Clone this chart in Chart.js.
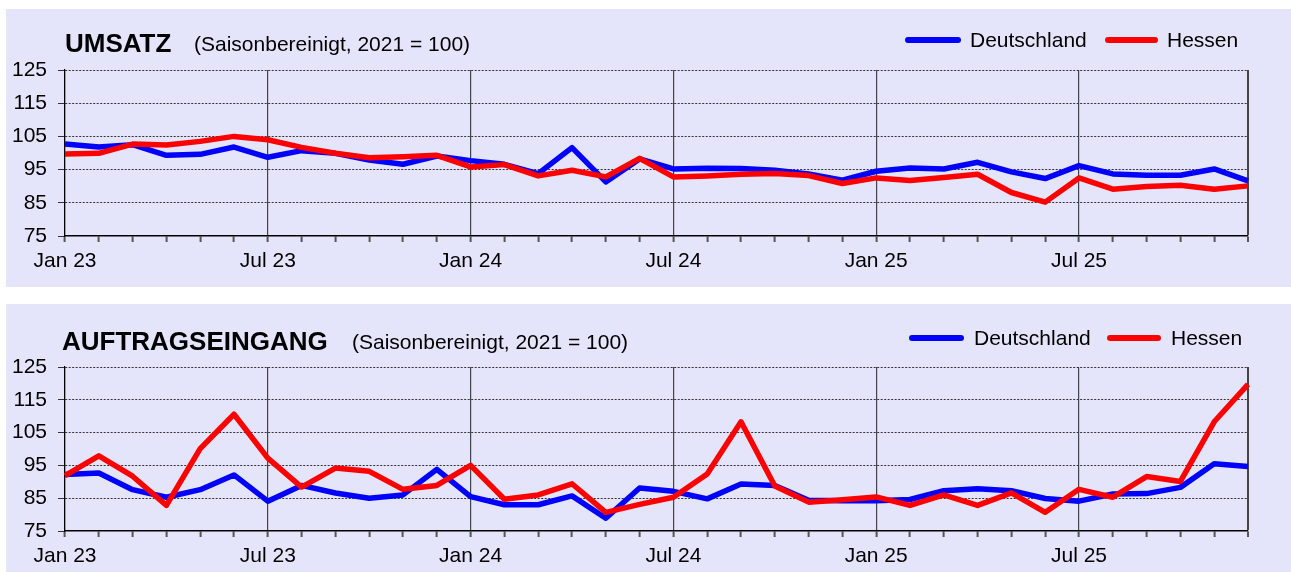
<!DOCTYPE html>
<html lang="de">
<head>
<meta charset="utf-8">
<title>Umsatz und Auftragseingang</title>
<script src="https://cdn.jsdelivr.net/npm/chart.js@4.4.1/dist/chart.umd.min.js"></script>
<style>
  html, body { margin: 0; padding: 0; background: #fff; }
  body { width: 1291px; height: 572px; position: relative; overflow: hidden; font-family: "Liberation Sans", Arial, sans-serif; color: #000; }
  .panel { position: absolute; left: 6px; width: 1285px; background: #E4E4FA; }
  .panel canvas { position: absolute; left: 0; top: 0; }
  .title { position: absolute; font-weight: bold; font-size: 26px; line-height: 26px; white-space: nowrap; }
  .sub { position: absolute; font-size: 21px; line-height: 21px; white-space: nowrap; }
  .leg-line { position: absolute; height: 6px; border-radius: 3px; }
  .leg-text { position: absolute; font-size: 21px; line-height: 21px; white-space: nowrap; }
</style>
</head>
<body>

<div class="panel" id="p1" style="top:9px;height:278px;">
  <canvas id="umsatzChart" width="1285" height="278"></canvas>
  <div class="title" style="left:59px;top:21px;">UMSATZ</div>
  <div class="sub" style="left:188px;top:24px;">(Saisonbereinigt, 2021 = 100)</div>
  <div class="leg-line" style="left:899px;top:28px;width:56px;background:#0000FF;"></div>
  <div class="leg-text" style="left:964px;top:20px;">Deutschland</div>
  <div class="leg-line" style="left:1099px;top:28px;width:53px;background:#FF0000;"></div>
  <div class="leg-text" style="left:1161px;top:20px;">Hessen</div>
</div>

<div class="panel" id="p2" style="top:304px;height:268px;">
  <canvas id="auftragChart" width="1285" height="268"></canvas>
  <div class="title" style="left:56px;top:24px;">AUFTRAGSEINGANG</div>
  <div class="sub" style="left:346px;top:27px;">(Saisonbereinigt, 2021 = 100)</div>
  <div class="leg-line" style="left:903px;top:31px;width:55px;background:#0000FF;"></div>
  <div class="leg-text" style="left:968px;top:23px;">Deutschland</div>
  <div class="leg-line" style="left:1101px;top:31px;width:54px;background:#FF0000;"></div>
  <div class="leg-text" style="left:1165px;top:23px;">Hessen</div>
</div>

<script>
// Monate Jan 23 bis Dez 25
const monthNames = ['Jan', 'Feb', 'Mär', 'Apr', 'Mai', 'Jun', 'Jul', 'Aug', 'Sep', 'Okt', 'Nov', 'Dez'];
const years = ['23', '24', '25'];
const months = [];
years.forEach(y => monthNames.forEach(m => months.push(m + ' ' + y)));

const yTicks = [75, 85, 95, 105, 115, 125];

// Umsatz (Saisonbereinigt, 2021 = 100)
const umsatzDeutschland = [
  102.7, 101.8, 102.5, 99.3, 99.6, 101.8, 98.7, 100.7, 99.9, 97.9, 96.6, 99.1,
  97.7, 96.6, 93.8, 101.6, 91.3, 98.2, 95.2, 95.4, 95.3, 94.8, 93.7, 91.8,
  94.5, 95.5, 95.2, 97.2, 94.3, 92.3, 96.2, 93.7, 93.3, 93.3, 95.2, 91.6
];
const umsatzHessen = [
  99.7, 99.9, 102.7, 102.4, 103.5, 105.0, 104.0, 101.7, 99.9, 98.6, 98.9, 99.3,
  95.8, 96.5, 93.1, 94.8, 92.8, 98.4, 92.8, 93.1, 93.6, 93.8, 93.2, 90.8,
  92.5, 91.7, 92.6, 93.6, 88.1, 85.2, 92.5, 89.1, 89.9, 90.3, 89.1, 90.1
];

// Auftragseingang (Saisonbereinigt, 2021 = 100)
const auftragDeutschland = [
  92.2, 92.7, 87.6, 85.3, 87.6, 92.1, 84.1, 88.9, 86.6, 85.0, 86.0, 93.8,
  85.5, 83.0, 83.0, 85.7, 78.9, 88.1, 87.1, 84.8, 89.3, 88.9, 84.4, 84.2,
  84.2, 84.6, 87.3, 87.9, 87.3, 84.9, 84.1, 86.3, 86.4, 88.3, 95.5, 94.7
];
const auftragHessen = [
  91.9, 97.9, 91.7, 82.8, 100.1, 110.6, 97.2, 88.4, 94.2, 93.2, 87.7, 88.9,
  95.0, 84.7, 86.0, 89.4, 80.7, 83.1, 85.3, 92.4, 108.3, 88.7, 83.8, 84.5,
  85.4, 82.8, 86.0, 82.8, 86.6, 80.7, 87.7, 85.3, 91.6, 90.1, 108.3, 119.7
];

function makeChart(canvasId, deData, heData, topPad, xAxisHeight) {
  const ctx = document.getElementById(canvasId).getContext('2d');
  const last = months.length - 1;
  return new Chart(ctx, {
    type: 'line',
    data: {
      labels: months,
      datasets: [
        {
          label: 'Deutschland',
          data: deData,
          borderColor: '#0000FF',
          backgroundColor: '#0000FF',
          borderWidth: 5.5,
          pointRadius: 0,
          tension: 0,
          borderJoinStyle: 'round',
          order: 2
        },
        {
          label: 'Hessen',
          data: heData,
          borderColor: '#FF0000',
          backgroundColor: '#FF0000',
          borderWidth: 5.5,
          pointRadius: 0,
          tension: 0,
          borderJoinStyle: 'round',
          order: 1
        }
      ]
    },
    options: {
      responsive: false,
      animation: false,
      events: [],
      layout: { padding: { left: 0, right: 43, top: topPad, bottom: 0 } },
      plugins: {
        legend: { display: false },
        title: { display: false },
        tooltip: { enabled: false }
      },
      scales: {
        x: {
          type: 'category',
          offset: false,
          afterFit: s => { s.height = xAxisHeight; },
          ticks: {
            autoSkip: false,
            maxRotation: 0,
            padding: 7,
            color: '#000',
            font: { family: 'Liberation Sans, Arial, sans-serif', size: 21 },
            callback: (val, i) => (i % 6 === 0 ? months[i] : '')
          },
          grid: {
            color: c => (c.index % 6 === 0 || c.index === last) ? '#444' : 'rgba(0,0,0,0)',
            lineWidth: c => (c.index === last ? 2 : 1.2),
            tickColor: '#555',
            tickWidth: 2,
            tickLength: 6,
            drawOnChartArea: true
          },
          border: { color: '#000', width: 1.5 }
        },
        y: {
          min: 75,
          max: 125,
          afterFit: s => { s.width = 59; },
          afterBuildTicks: s => { s.ticks = yTicks.map(v => ({ value: v })); },
          ticks: {
            padding: 11,
            color: '#000',
            font: { family: 'Liberation Sans, Arial, sans-serif', size: 21 }
          },
          grid: {
            color: c => (c.tick && c.tick.value === 75) ? 'rgba(0,0,0,0)' : '#333',
            lineWidth: 1,
            tickLength: 7,
            tickColor: '#333'
          },
          border: { color: '#000', width: 1.2, dash: [2, 1.5] }
        }
      }
    }
  });
}

makeChart('umsatzChart', umsatzDeutschland, umsatzHessen, 61, 51);
makeChart('auftragChart', auftragDeutschland, auftragHessen, 63, 41);
</script>
</body>
</html>
